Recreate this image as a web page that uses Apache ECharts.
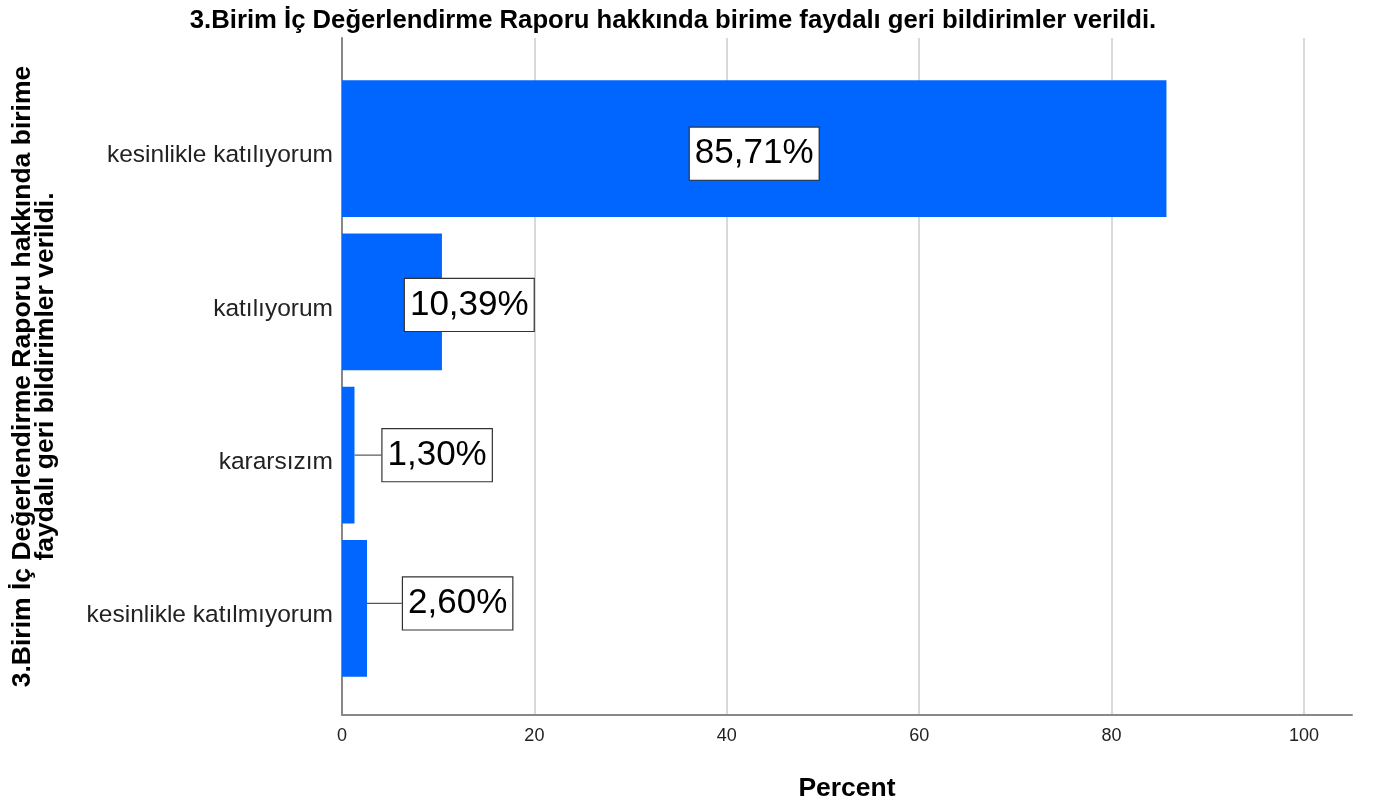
<!DOCTYPE html>
<html>
<head>
<meta charset="utf-8">
<script src="https://cdn.jsdelivr.net/npm/echarts@6/dist/echarts.min.js"></script>
<style>
  html, body { margin: 0; padding: 0; background: #fff; }
  #chart { width: 1373px; height: 807px; }
</style>
</head>
<body>
<div id="chart"></div>
<script>
const titleText = '3.Birim İç Değerlendirme Raporu hakkında birime faydalı geri bildirimler verildi.';
const yName = '3.Birim İç Değerlendirme Raporu hakkında birime\nfaydalı geri bildirimler verildi.';
const xName = 'Percent';
const categories = ['kesinlikle katılıyorum', 'katılıyorum', 'kararsızım', 'kesinlikle katılmıyorum'];
const percents = [85.71, 10.39, 1.30, 2.60];
const xTicks = [0, 20, 40, 60, 80, 100];

// label nudges (px), per bar
const labelDx = [0, -37, 28, 36];
const labelDy = [5, 3, 0, -5];

const FONT = '"Liberation Sans", Arial, sans-serif';
const GRID_LEFT = 342, GRID_RIGHT = 21;

const chart = echarts.init(document.getElementById('chart'));

const barData = percents.map((v, i) => ({
  value: v,
  label: i === 0 ? { position: 'inside' } : { position: 'right', distance: 0 },
  labelLine: { show: i >= 2 }
}));

const splitColors = xTicks.map(() => '#cccccc').concat(['rgba(0,0,0,0)']);

chart.setOption({
  animation: false,
  title: {
    text: titleText,
    left: 668,
    top: 3,
    textAlign: 'center',
    textStyle: { fontFamily: FONT, fontSize: 25.7, fontWeight: 'bold', color: '#000' }
  },
  // grid 0: frame (axes, gridlines); grid 1: the bars, inset like the original
  grid: [
    { left: GRID_LEFT, right: GRID_RIGHT, top: 38, bottom: 90 },
    { left: GRID_LEFT, right: GRID_RIGHT, top: 72, bottom: 122 }
  ],
  xAxis: [{
    gridIndex: 0,
    type: 'value',
    min: 0,
    max: 105,
    interval: 20,
    name: xName,
    nameLocation: 'middle',
    nameGap: 60,
    nameTextStyle: { fontFamily: FONT, fontSize: 26.5, fontWeight: 'bold', color: '#000' },
    axisLine: { show: true, lineStyle: { color: '#888', width: 2 } },
    axisTick: { show: false },
    axisLabel: {
      fontFamily: FONT, fontSize: 18, color: '#222', margin: 12,
      formatter: v => (xTicks.indexOf(v) >= 0 ? String(v) : '')
    },
    splitLine: { show: true, lineStyle: { color: splitColors, width: 1.5 } }
  }, {
    gridIndex: 1,
    type: 'value',
    min: 0,
    max: 105,
    show: false
  }],
  yAxis: [{
    gridIndex: 0,
    type: 'value',
    min: 0,
    max: 1,
    name: yName,
    nameLocation: 'middle',
    nameGap: 285,
    nameTextStyle: { fontFamily: FONT, fontSize: 26.5, fontWeight: 'bold', color: '#000', lineHeight: 23 },
    axisLine: { show: true, lineStyle: { color: '#888', width: 2 } },
    axisTick: { show: false },
    axisLabel: { show: false },
    splitLine: { show: false }
  }, {
    gridIndex: 1,
    type: 'category',
    data: categories,
    inverse: true,
    axisLine: { show: false },
    axisTick: { show: false },
    axisLabel: {
      fontFamily: FONT, fontSize: 24.5, color: '#222', margin: 9,
      verticalAlign: 'top', lineHeight: 14
    }
  }],
  series: [{
    type: 'bar',
    xAxisIndex: 1,
    yAxisIndex: 1,
    data: barData,
    barCategoryGap: '10.65%',
    itemStyle: { color: '#0066ff' },
    label: {
      show: true,
      formatter: p => p.value.toFixed(2).replace('.', ',') + '%',
      fontFamily: FONT,
      fontSize: 35,
      lineHeight: 44,
      color: '#000',
      backgroundColor: '#fff',
      borderColor: '#333',
      borderWidth: 1.2,
      padding: [5, 5, 3, 5]
    },
    labelLine: { show: true, lineStyle: { color: '#555', width: 1.2 } },
    labelLayout: p => ({ dx: labelDx[p.dataIndex], dy: labelDy[p.dataIndex] })
  }]
});
</script>
</body>
</html>
